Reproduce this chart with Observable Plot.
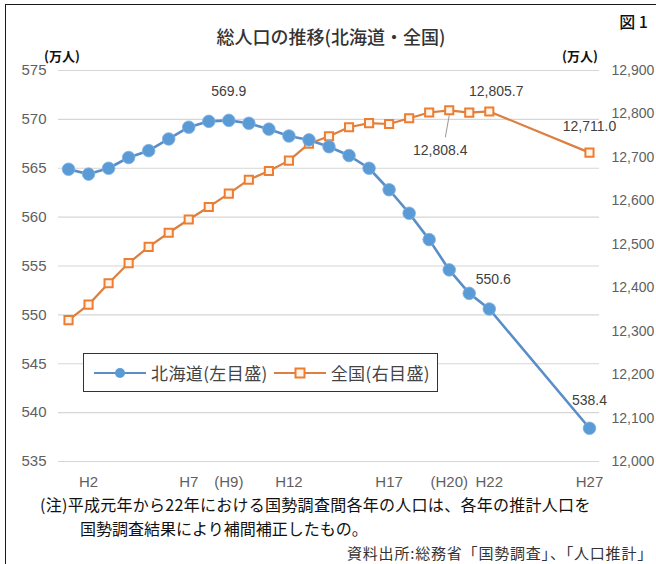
<!DOCTYPE html>
<html><head><meta charset="utf-8">
<script src="https://cdn.jsdelivr.net/npm/d3@7"></script>
<script src="https://cdn.jsdelivr.net/npm/@observablehq/plot@0.6"></script>
<style>
body{margin:0;background:#fff;}
#wrap{position:relative;width:656px;height:564px;overflow:hidden;background:#fff;font-family:"Noto Sans CJK JP","Noto Sans",sans-serif;}
#border{position:absolute;left:5px;top:4px;width:800px;height:800px;border-left:1.5px solid #1a1a1a;border-top:1.5px solid #1a1a1a;}
#chart{position:absolute;left:0;top:0;}
.t{position:absolute;white-space:nowrap;line-height:1.2;}
#fig{right:8px;top:12px;font-size:16px;color:#111;font-weight:500;}
#title{left:0;width:656px;text-align:center;top:26px;font-size:18px;color:#333;font-weight:500;padding-left:6px;box-sizing:border-box;}
#unitL{left:44px;top:48px;font-size:13px;color:#111;font-weight:700;}
#unitR{left:562px;top:48px;font-size:13px;color:#111;font-weight:700;}
#legend{position:absolute;left:83px;top:353px;width:355px;height:39px;border:1.5px solid #333;background:#fff;display:flex;align-items:center;font-size:17px;color:#444;box-sizing:border-box;padding-left:10px;letter-spacing:0.4px;}
#legend svg{display:block;}
#note1{left:40px;top:493px;font-size:16px;line-height:1.45;color:#111;letter-spacing:0.28px;}
#note2{left:80px;top:517px;font-size:16px;line-height:1.45;color:#111;}
#source{right:3px;top:542px;font-size:15px;line-height:1.45;color:#333;letter-spacing:0.8px;}
</style></head><body>
<div id="wrap">
 <div id="chart"></div>
 <div id="border"></div>
 <div class="t" id="fig">図 1</div>
 <div class="t" id="title">総人口の推移(北海道・全国)</div>
 <div class="t" id="unitL">(万人)</div>
 <div class="t" id="unitR">(万人)</div>
 <div id="legend"></div>
 <div class="t" id="note1">(注)平成元年から22年における国勢調査間各年の人口は、各年の推計人口を</div>
 <div class="t" id="note2">国勢調査結果により補間補正したもの。</div>
 <div class="t" id="source">資料出所:総務省「国勢調査」、「人口推計」</div>
</div>
<script>
// Heisei years
const years = [1,2,3,4,5,6,7,8,9,10,11,12,13,14,15,16,17,18,19,20,21,22,27];
// 北海道 (万人, left axis)
const hokkaido = [564.9,564.4,565.0,566.1,566.8,568.0,569.2,569.8,569.9,569.6,569.0,568.3,567.9,567.2,566.3,565.0,562.8,560.4,557.7,554.6,552.2,550.6,538.4];
// 全国 (万人, right axis)
const zenkoku = [12325.5,12361.1,12410.2,12456.7,12493.9,12526.5,12557.0,12585.9,12616.6,12648.6,12668.6,12692.6,12731.6,12748.6,12769.4,12778.7,12776.8,12790.1,12803.3,12808.4,12803.2,12805.7,12711.0];
const leftTicks = [535,540,545,550,555,560,565,570,575];
const rightTicks = [12000,12100,12200,12300,12400,12500,12600,12700,12800,12900];
const xTickYears = [2,7,9,12,17,20,22,27];
const xTickLabels = ["H2","H7","(H9)","H12","H17","(H20)","H22","H27"];
const seriesNames = ["北海道(左目盛)","全国(右目盛)"];

const leftDomain = [535,575];
const rightDomain = [12000,12900];
const toLeft = v => leftDomain[0] + (v - rightDomain[0]) * (leftDomain[1]-leftDomain[0]) / (rightDomain[1]-rightDomain[0]);
const fromLeft = v => rightDomain[0] + (v - leftDomain[0]) * (rightDomain[1]-rightDomain[0]) / (leftDomain[1]-leftDomain[0]);

const hk = years.map((y,i)=>({year:y, value:hokkaido[i]}));
const zk = years.map((y,i)=>({year:y, value:zenkoku[i], yv:toLeft(zenkoku[i])}));
const xLabelMap = new Map(xTickYears.map((y,i)=>[y, xTickLabels[i]]));
const pick = (arr, y) => arr.filter(d => d.year === y);
const f1 = d3.format(".1f"), fc1 = d3.format(",.1f"), fc = d3.format(",");

const BLUE = "#5B9BD5", BLUE_LINE = "#5a8ec6", ORANGE = "#ED7D31", ORANGE_LINE = "#dc7f40";
const leaderShape = {draw(ctx, l){ ctx.moveTo(0,0); ctx.lineTo(0,-l); }};

const chart = Plot.plot({
  width: 656, height: 500,
  marginLeft: 58, marginRight: 57, marginTop: 70, marginBottom: 39,
  x: {type:"linear", domain:[0.5, 27.5]},
  y: {domain: leftDomain},
  style: {fontFamily:"'Liberation Sans', Arial, sans-serif", fontSize:"15px", color:"#595959", background:"transparent", overflow:"visible"},
  marks: [
    Plot.gridY(leftTicks, {stroke:"#d6d6d6", strokeOpacity:1, strokeWidth:1.2}),
    Plot.axisY(leftTicks, {anchor:"left", tickSize:0, tickPadding:12, label:null, fontSize:15, fill:"#5f5f5f"}),
    Plot.axisY(rightTicks.map(toLeft), {anchor:"right", tickSize:0, tickPadding:12, label:null, fontSize:14, fill:"#5f5f5f", tickFormat: d => fc(Math.round(fromLeft(d)))}),
    Plot.axisX(xTickYears, {tickSize:0, tickPadding:15, label:null, fontSize:15, fill:"#5f5f5f", tickFormat: d => xLabelMap.get(d)}),
    // 全国
    Plot.line(zk, {x:"year", y:"yv", stroke:ORANGE_LINE, strokeWidth:2.2}),
    Plot.dot(zk, {x:"year", y:"yv", symbol:"square", r:4.6, fill:"#fff4ea", stroke:ORANGE, strokeWidth:2}),
    // 北海道
    Plot.line(hk, {x:"year", y:"value", stroke:BLUE_LINE, strokeWidth:2.6}),
    Plot.dot(hk, {x:"year", y:"value", r:6.3, fill:BLUE, stroke:"#7fb2e3", strokeWidth:0.8}),
    // data labels
    Plot.text(pick(hk,9), {x:"year", y:"value", text:d=>f1(d.value), dy:-29, fontSize:14, fill:"#404040"}),
    Plot.text(pick(hk,22), {x:"year", y:"value", text:d=>f1(d.value), dx:4, dy:-29, fontSize:14, fill:"#404040"}),
    Plot.text(pick(hk,27), {x:"year", y:"value", text:d=>f1(d.value), dy:-28, fontSize:14, fill:"#404040"}),
    Plot.text(pick(zk,22), {x:"year", y:"yv", text:d=>fc1(d.value), dx:7, dy:-20, fontSize:14, fill:"#404040"}),
    Plot.text(pick(zk,27), {x:"year", y:"yv", text:d=>fc1(d.value), dy:-26, fontSize:14, fill:"#404040"}),
    Plot.text(pick(zk,20), {x:"year", y:"yv", text:d=>fc1(d.value), dx:-9, dy:40, fontSize:14, fill:"#404040"}),
    Plot.vector(pick(zk,20), {x:"year", y:"yv", length:22, rotate:190, anchor:"start", shape:leaderShape, stroke:"#9a9a9a", strokeWidth:1, dy:5})
  ]
});
document.getElementById("chart").appendChild(chart);

// legend
const legend = document.getElementById("legend");
function legendItem(color, lineColor, symbol, name, gap){
  const sym = symbol === "circle"
    ? `<circle cx="26" cy="8" r="5" fill="${color}"/>`
    : `<rect x="21.5" y="3.5" width="9" height="9" fill="#fff4ea" stroke="${color}" stroke-width="2"/>`;
  const span = document.createElement("span");
  span.style.display = "flex"; span.style.alignItems = "center"; span.style.marginRight = gap + "px";
  span.innerHTML = `<svg width="52" height="16"><line x1="0" y1="8" x2="52" y2="8" stroke="${lineColor}" stroke-width="2.2"/>${sym}</svg><span style="margin-left:5px">${name}</span>`;
  legend.appendChild(span);
}
legendItem(BLUE, BLUE_LINE, "circle", seriesNames[0], 6);
legendItem(ORANGE, ORANGE_LINE, "square", seriesNames[1], 0);
</script>
</body></html>
